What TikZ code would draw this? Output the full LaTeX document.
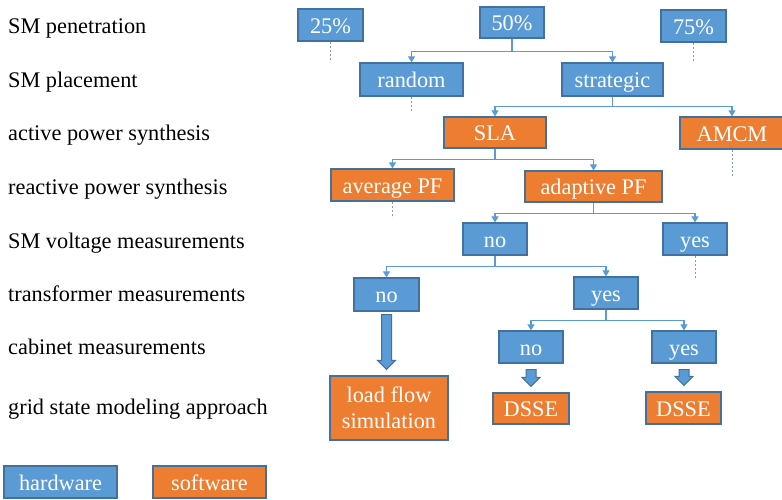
\documentclass[tikz,border=0pt]{standalone}
\usepackage{fontspec}
\setmainfont{Liberation Serif}
\usetikzlibrary{arrows.meta,calc}

\definecolor{hwblue}{HTML}{5B9BD5}
\definecolor{swor}{HTML}{ED7D31}
\definecolor{edge}{HTML}{41719C}
\definecolor{stub}{HTML}{8A9BB0}

\tikzset{
  box/.style={draw=edge, line width=1.2pt, inner sep=0pt, text=white,
    font=\fontsize{22.3}{26}\selectfont, text height=16pt, text depth=0pt},
  hw/.style={box, fill=hwblue},
  sw/.style={box, fill=swor},
  lbl/.style={anchor=base west, inner sep=0pt, font=\fontsize{22.3}{26}\selectfont},
  branch/.style={draw=hwblue, line width=1.1pt,
    -{Triangle[width=7pt,length=6pt]}},
  stubline/.style={draw=stub, line width=0.8pt, dash pattern=on 2pt off 2pt},
  blockarrow/.style={fill=hwblue, draw=edge, line width=1pt, line join=miter}
}

% block arrow from the bottom of #1 to the top of #2
\newcommand\fatarrow[4]{%
  \path[blockarrow] let \p1=($(#1.south)+(0,#3)$), \p2=($(#2.north)+(0,-#4)$) in
    (\x1-5pt,\y1) -- (\x1+5pt,\y1) -- (\x1+5pt,\y2+9pt) -- (\x1+9pt,\y2+9pt)
    -- (\x1,\y2) -- (\x1-9pt,\y2+9pt) -- (\x1-5pt,\y2+9pt) -- cycle;}

\begin{document}
\begin{tikzpicture}[x=1pt,y=-1pt]
\useasboundingbox (0,0) rectangle (782,499);

% row labels
\node[lbl] (l1) at (8,33)  {SM penetration};
\node[lbl] (l2) at (8,87)  {SM placement};
\node[lbl] (l3) at (8,140) {active power synthesis};
\node[lbl] (l4) at (8,194) {reactive power synthesis};
\node[lbl] (l5) at (8,248) {SM voltage measurements};
\node[lbl] (l6) at (8,301) {transformer measurements};
\node[lbl] (l7) at (8,354) {cabinet measurements};
\node[lbl] (l8) at (8,414) {grid state modeling approach};

% decision tree
\node[hw, minimum width=65pt, minimum height=32pt] (p25) at (330.5,25) {25\%};
\node[hw, minimum width=64pt, minimum height=31pt] (p50) at (512,22.5) {50\%};
\node[hw, minimum width=65pt, minimum height=32pt] (p75) at (693.5,26) {75\%};

\node[hw, minimum width=103pt, minimum height=33pt] (rnd) at (411.5,79.5) {random};
\node[hw, minimum width=101pt, minimum height=33pt] (strat) at (612.5,79.5) {strategic};

\node[sw, minimum width=102pt, minimum height=31pt] (sla) at (495,132.5) {SLA};
\node[sw, minimum width=104pt, minimum height=32pt] (amcm) at (732,133) {AMCM};

\node[sw, minimum width=123pt, minimum height=32pt] (avgpf) at (392.5,185) {average PF};
\node[sw, minimum width=137pt, minimum height=31pt] (adapf) at (593.5,186.5) {adaptive PF};

\node[hw, minimum width=64pt, minimum height=32pt] (vno) at (495,239) {no};
\node[hw, minimum width=64pt, minimum height=32pt] (vyes) at (695,239) {yes};

\node[hw, minimum width=65pt, minimum height=33pt] (tno) at (386.5,294.5) {no};
\node[hw, minimum width=64pt, minimum height=32pt] (tyes) at (606,293) {yes};

\node[hw, minimum width=64pt, minimum height=32pt] (cno) at (531,347) {no};
\node[hw, minimum width=64pt, minimum height=32pt] (cyes) at (684,347) {yes};

\node[sw, minimum width=118pt, minimum height=64pt, text height=, text depth=,
  align=center] (lfs) at (389,408) {load flow\\simulation};
\node[sw, minimum width=76pt, minimum height=31pt] (dsse1) at (531,408.5) {DSSE};
\node[sw, minimum width=75pt, minimum height=32pt] (dsse2) at (683.5,408) {DSSE};

% legend
\node[hw, minimum width=113pt, minimum height=32pt] (hwkey) at (60.5,482) {hardware};
\node[sw, minimum width=113pt, minimum height=32pt] (swkey) at (209.5,482) {software};

% branches
\draw[branch] (p50.south) -- ++(0,13) -| (rnd.north);
\draw[branch] (p50.south) -- ++(0,13) -| (strat.north);
\draw[branch] (strat.south) -- ++(0,10) -| (sla.north);
\draw[branch] (strat.south) -- ++(0,10) -| (amcm.north);
\draw[branch] (sla.south) -- ++(0,11) -| (avgpf.north);
\draw[branch] (sla.south) -- ++(0,11) -| (adapf.north);
\draw[branch] (adapf.south) -- ++(0,11) -| (vno.north);
\draw[branch] (adapf.south) -- ++(0,11) -| (vyes.north);
\draw[branch] (vno.south) -- ++(0,11) -| (tno.north);
\draw[branch] (vno.south) -- ++(0,11) -| (tyes.north);
\draw[branch] (tyes.south) -- ++(0,11) -| (cno.north);
\draw[branch] (tyes.south) -- ++(0,11) -| (cyes.north);

% branches left open
\draw[stubline] (p25.south) -- ++(0,20);
\draw[stubline] (p75.south) -- ++(0,19);
\draw[stubline] (rnd.south) -- ++(0,14);
\draw[stubline] (amcm.south) -- ++(0,27);
\draw[stubline] (avgpf.south) -- ++(0,16);
\draw[stubline] (vyes.south) -- ++(0,22);

% resulting modeling approach
\fatarrow{tno}{lfs}{3}{6}
\fatarrow{cno}{dsse1}{6}{6}
\fatarrow{cyes}{dsse2}{6}{6}
\end{tikzpicture}
\end{document}
